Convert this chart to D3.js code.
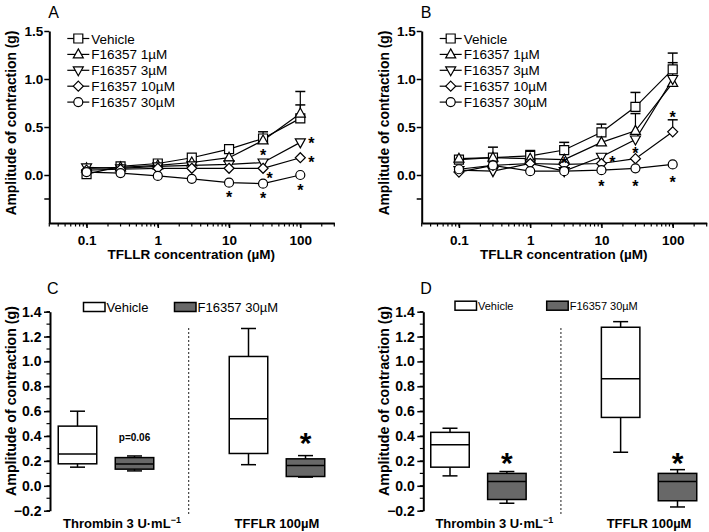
<!DOCTYPE html>
<html>
<head>
<meta charset="utf-8">
<script src="https://cdn.jsdelivr.net/npm/d3@7"></script>
<style>
body{margin:0;background:#fff}
text{font-family:"Liberation Sans",Arial,Helvetica,sans-serif;fill:#000}
</style>
</head>
<body>
<svg id="fig" width="709" height="532"></svg>
<script>
// concentrations (uM) for panels A and B
var conc = [0.1, 0.3, 1, 3, 10, 30, 100];
var seriesNames = ["Vehicle", "F16357 1\u00b5M", "F16357 3\u00b5M", "F16357 10\u00b5M", "F16357 30\u00b5M"];
var seriesSymbols = ["square", "up", "down", "diamond", "circle"];

// panel A
var aVehicle = [0.01, 0.09, 0.12, 0.18, 0.27, 0.38, 0.59];
var aF1 = [0.07, 0.08, 0.10, 0.13, 0.18, 0.36, 0.64];
var aF3 = [0.08, 0.07, 0.09, 0.10, 0.11, 0.13, 0.34];
var aF10 = [0.05, 0.06, 0.07, 0.07, 0.07, 0.07, 0.18];
var aF30 = [0.03, 0.02, -0.01, -0.04, -0.08, -0.09, 0.00];
var aVehicleErr = [0, 0, 0, 0, 0, 0.07, 0.14];
var aF1Err = [0, 0, 0, 0, 0, 0, 0.23];
var aStars = [[30, 0.24, 0], [30, 0.0, 1], [100, 0.365, 2], [100, 0.165, 2], [10, -0.19, 0], [30, -0.21, 0], [100, -0.12, 0]];

// panel B
var bVehicle = [0.16, 0.18, 0.20, 0.26, 0.445, 0.71, 1.10];
var bF1 = [0.17, 0.18, 0.17, 0.16, 0.34, 0.46, 0.96];
var bF3 = [0.05, 0.04, 0.12, 0.04, 0.19, 0.37, 1.00];
var bF10 = [0.03, 0.10, 0.12, 0.11, 0.12, 0.17, 0.45];
var bF30 = [0.06, 0.10, 0.04, 0.04, 0.05, 0.07, 0.11];
var bVehicleErr = [0, 0, 0.055, 0.08, 0.085, 0.15, 0.17];
var bF1Err = [0, 0.11, 0, 0, 0, 0.18, 0.21];
var bF10Err = [0, 0, 0, 0, 0, 0, 0.125];
var bStars = [[3, 0.16, 0], [10, 0.17, 2], [30, 0.26, 0], [100, 0.64, 0], [10, -0.08, 0], [30, -0.08, 0], [100, -0.04, 0]];

// panels C and D : [min, q1, median, q3, max]
var groupNames = ["Vehicle", "F16357 30\u00b5M"];
var cThrombin = [[0.15, 0.177, 0.255, 0.48, 0.60], [0.12, 0.134, 0.175, 0.227, 0.24]];
var cTFFLR = [[0.17, 0.26, 0.54, 1.04, 1.265], [0.07, 0.075, 0.163, 0.217, 0.243]];
var dThrombin = [[0.08, 0.15, 0.33, 0.43, 0.463], [-0.14, -0.11, 0.035, 0.10, 0.115]];
var dTFFLR = [[0.27, 0.55, 0.86, 1.275, 1.32], [-0.17, -0.12, 0.035, 0.10, 0.13]];
var boxTicks = [-0.2, 0, 0.2, 0.4, 0.6, 0.8, 1.0, 1.2, 1.4];

var svg = d3.select("#fig");

function symbolPath(kind) {
  if (kind == "square") return "M-4.5,-4.5H4.5V4.5H-4.5Z";
  if (kind == "up") return "M0,-5.5L5,3.5L-5,3.5Z";
  if (kind == "down") return "M0,5.5L5,-3.5L-5,-3.5Z";
  if (kind == "diamond") return "M0,-5L5,0L0,5L-5,0Z";
  return "M4.5,0A4.5,4.5 0 1,1 -4.5,0A4.5,4.5 0 1,1 4.5,0Z";
}

function star(g, x, y, fs) {
  g.append("text").attr("x", x).attr("y", y + 0.58 * fs)
    .attr("text-anchor", "middle").attr("font-size", fs).attr("font-weight", "bold").text("*");
}

function yTitle(g, x, y, fs) {
  g.append("text").attr("transform", "translate(" + x + "," + y + ") rotate(-90)")
    .attr("text-anchor", "middle").attr("dy", "0.35em")
    .attr("font-size", fs).attr("font-weight", "bold").text("Amplitude of contraction (g)");
}

function linePanel(ox, letter, data, errs, stars) {
  var g = svg.append("g");
  var x = d3.scaleLog().domain([0.03, 300]).range([ox, ox + 285]);
  var y = d3.scaleLinear().domain([-0.5, 1.5]).range([223, 31]);

  // minor x ticks
  g.selectAll(".minor").data(x.ticks()).enter().append("line")
    .attr("x1", d => x(d)).attr("x2", d => x(d)).attr("y1", 223).attr("y2", 226.5)
    .attr("stroke", "#000").attr("stroke-width", 1.2);
  var xa = g.append("g").attr("transform", "translate(0,223)")
    .call(d3.axisBottom(x).tickValues([0.1, 1, 10, 100]).tickSize(5).tickSizeOuter(0).tickFormat(d => d >= 1 ? d3.format("d")(d) : "0.1"));
  var ya = g.append("g").attr("transform", "translate(" + ox + ",0)")
    .call(d3.axisLeft(y).tickValues([0, 0.5, 1, 1.5]).tickSize(5).tickSizeOuter(0).tickFormat(d3.format(".1f")));
  g.append("line").attr("x1", ox - 5).attr("x2", ox).attr("y1", y(-0.25)).attr("y2", y(-0.25)).attr("stroke", "#000").attr("stroke-width", 1.5);
  [xa, ya].forEach(function(a){
    a.select(".domain").attr("stroke-width", 2);
    a.selectAll(".tick line").attr("stroke-width", 1.5);
    a.selectAll(".tick text").attr("font-size", 13.5).attr("font-weight", "bold")
      .style("font-family", "'Liberation Sans',Arial,sans-serif");
  });
  xa.selectAll(".tick text").attr("y", 12);
  ya.selectAll(".tick text").attr("x", -6);

  g.append("text").attr("x", ox + 142).attr("y", 259).attr("text-anchor", "middle")
    .attr("font-size", 13.5).attr("font-weight", "bold").text("TFLLR concentration (\u00b5M)");
  yTitle(g, ox - 38, 123, 13.8);
  g.append("text").attr("x", ox - 1).attr("y", 18).attr("font-size", 16).text(letter);

  var line = d3.line().x((d, i) => x(conc[i])).y(d => y(d));
  data.forEach(function(s){
    g.append("path").attr("d", line(s)).attr("fill", "none").attr("stroke", "#000").attr("stroke-width", 1.2);
  });
  errs.forEach(function(e){
    var s = data[e[0]];
    e[1].forEach(function(v, i){
      if (!v) return;
      var cx = x(conc[i]);
      g.append("line").attr("x1", cx).attr("x2", cx).attr("y1", y(s[i])).attr("y2", y(s[i] + v)).attr("stroke", "#000").attr("stroke-width", 1.2);
      g.append("line").attr("x1", cx - 5).attr("x2", cx + 5).attr("y1", y(s[i] + v)).attr("y2", y(s[i] + v)).attr("stroke", "#000").attr("stroke-width", 1.5);
    });
  });
  data.forEach(function(s, k){
    g.selectAll(null).data(s).enter().append("path")
      .attr("transform", (d, i) => "translate(" + x(conc[i]) + "," + y(d) + ")")
      .attr("d", symbolPath(seriesSymbols[k])).attr("fill", "#fff").attr("stroke", "#000").attr("stroke-width", 1.2);
  });
  stars.forEach(function(s){
    star(g, x(s[0]) + [0, 6.5, 11][s[2]], y(s[1]), 16);
  });

  // legend
  var lx = ox + 29;
  seriesNames.forEach(function(n, k){
    var ly = 38.5 + k * 15.9;
    g.append("line").attr("x1", lx - 11).attr("x2", lx + 11).attr("y1", ly).attr("y2", ly).attr("stroke", "#000").attr("stroke-width", 1.2);
    g.append("path").attr("transform", "translate(" + lx + "," + ly + ")").attr("d", symbolPath(seriesSymbols[k]))
      .attr("fill", "#fff").attr("stroke", "#000").attr("stroke-width", 1.2);
    g.append("text").attr("x", lx + 13).attr("y", ly + 5).attr("font-size", 13.5).text(n);
  });
}

function boxPanel(ox, x0, x1, letter, thr, tff, legend, starsAt, pText) {
  var g = svg.append("g");
  var x = d3.scaleLinear().domain([0, 4]).range([x0, x1]);
  var y = d3.scaleLinear().domain([-0.2, 1.4]).range([510.7, 311.7]);
  var minor = d3.range(-2, 15).map(d => d / 10);
  g.selectAll(".mn").data(minor).enter().append("line")
    .attr("x1", ox - 3.5).attr("x2", ox).attr("y1", d => y(d)).attr("y2", d => y(d))
    .attr("stroke", "#000").attr("stroke-width", 1.2);
  var ya = g.append("g").attr("transform", "translate(" + ox + ",0)")
    .call(d3.axisLeft(y).tickValues(boxTicks).tickSize(6).tickSizeOuter(0).tickFormat(d3.format(".1f")));
  ya.select(".domain").attr("stroke-width", 2);
  ya.selectAll(".tick line").attr("stroke-width", 1.5);
  ya.selectAll(".tick text").attr("x", -8.5).attr("font-size", 14).attr("font-weight", "bold")
    .style("font-family", "'Liberation Sans',Arial,sans-serif");
  yTitle(g, ox - 39, 401, 14.2);
  g.append("text").attr("x", ox - 3).attr("y", 294).attr("font-size", 16).text(letter);

  g.append("line").attr("x1", x(1.95)).attr("x2", x(1.95)).attr("y1", 328).attr("y2", 515)
    .attr("stroke", "#444").attr("stroke-width", 1.2).attr("stroke-dasharray", "2,2");

  var bw = 38.5, cw = 15;
  [[0, thr], [3, tff]].forEach(function(grp){
    grp[1].forEach(function(b, k){
      var cx = x(grp[0] + k);
      g.append("line").attr("x1", cx).attr("x2", cx).attr("y1", y(b[0])).attr("y2", y(b[4])).attr("stroke", "#000").attr("stroke-width", 1.5);
      [b[0], b[4]].forEach(function(v){
        g.append("line").attr("x1", cx - cw / 2).attr("x2", cx + cw / 2).attr("y1", y(v)).attr("y2", y(v)).attr("stroke", "#000").attr("stroke-width", 1.5);
      });
      g.append("rect").attr("x", cx - bw / 2).attr("width", bw).attr("y", y(b[3])).attr("height", y(b[1]) - y(b[3]))
        .attr("fill", k ? "#686868" : "#fff").attr("stroke", "#000").attr("stroke-width", 1.5);
      g.append("line").attr("x1", cx - bw / 2).attr("x2", cx + bw / 2).attr("y1", y(b[2])).attr("y2", y(b[2])).attr("stroke", "#000").attr("stroke-width", 1.5);
    });
  });
  starsAt.forEach(function(s){ star(g, x(s[0]), y(s[1]), 30); });
  if (pText) {
    g.append("text").attr("x", x(1)).attr("y", y(0.4) + 5).attr("text-anchor", "middle")
      .attr("font-size", 10).attr("font-weight", "bold").text(pText);
  }

  var t1 = g.append("text").attr("x", x(0.78)).attr("y", 528).attr("text-anchor", "middle").attr("font-size", 13).attr("font-weight", "bold");
  t1.append("tspan").text("Thrombin 3 U\u00b7mL");
  t1.append("tspan").attr("dy", -5).attr("font-size", 9).text("\u22121");
  g.append("text").attr("x", x(3.5)).attr("y", 528).attr("text-anchor", "middle").attr("font-size", 13).attr("font-weight", "bold").text("TFFLR 100\u00b5M");

  // legend
  groupNames.forEach(function(n, k){
    var rx = legend.x[k];
    g.append("rect").attr("x", rx).attr("y", legend.y - 4.5).attr("width", 21.5).attr("height", 9)
      .attr("fill", k ? "#686868" : "#fff").attr("stroke", "#000").attr("stroke-width", 1.5);
    g.append("text").attr("x", rx + 23).attr("y", legend.y + legend.fs * 0.36).attr("font-size", legend.fs).text(n);
  });
}

linePanel(49.3, "A", [aVehicle, aF1, aF3, aF10, aF30], [[0, aVehicleErr], [1, aF1Err]], aStars);
linePanel(421.7, "B", [bVehicle, bF1, bF3, bF10, bF30], [[0, bVehicleErr], [1, bF1Err], [3, bF10Err]], bStars);
boxPanel(50, 77.5, 305.5, "C", cThrombin, cTFFLR, {x: [83.5, 174.5], y: 307, fs: 13}, [[4, 0.4]], "p=0.06");
boxPanel(423.3, 450, 677.5, "D", dThrombin, dTFFLR, {x: [455, 546.7], y: 305.7, fs: 11}, [[1, 0.24], [4, 0.24]], null);
</script>
</body>
</html>
